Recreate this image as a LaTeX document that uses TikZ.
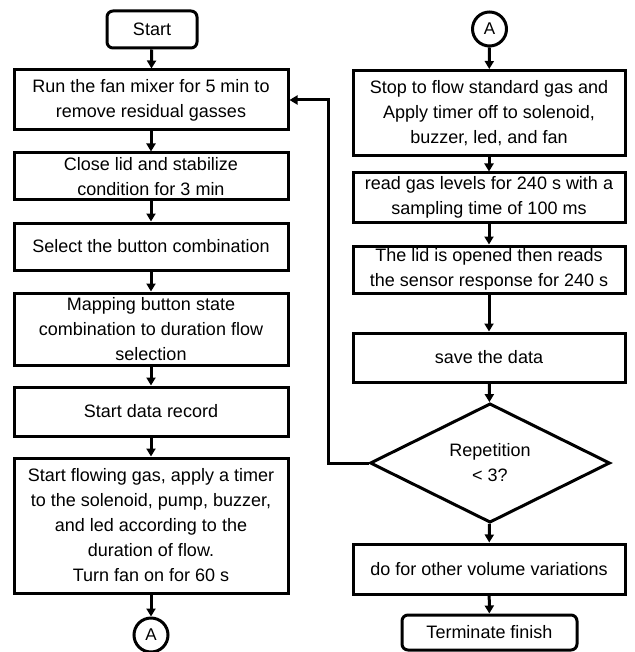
\documentclass[tikz,border=0pt]{standalone}
\usepackage{fontspec}
\setmainfont{Liberation Sans}
\usetikzlibrary{shapes.geometric,arrows.meta}
\begin{document}
\begin{tikzpicture}[x=1pt,y=-1pt,
  box/.style={draw, line width=3pt, inner sep=0pt, align=center, font=\fontsize{18}{25}\selectfont},
  lbox/.style={box, minimum width=274pt},
  rbox/.style={box, minimum width=272pt},
  term/.style={box, rounded corners=6pt},
  conn/.style={draw, circle, line width=3pt, minimum size=34pt, inner sep=0pt, font=\fontsize{17}{20}\selectfont},
  dec/.style={draw, diamond, line width=3pt, minimum width=240pt, minimum height=109pt, inner sep=0pt, align=center, font=\fontsize{18}{25}\selectfont},
  arr/.style={line width=3pt, -{Triangle[length=8pt,width=9pt]}}]
\useasboundingbox (0,0) rectangle (634,652);
% left column
\node[term, minimum width=90pt, minimum height=37pt] (start) at (152,29.5) {Start};
\node[lbox, minimum height=60pt] (run) at (151,100) {Run the fan mixer for 5 min to\\remove residual gasses};
\node[lbox, minimum height=47pt] (close) at (151,176.5) {Close lid and stabilize\\condition for 3 min};
\node[lbox, minimum height=47pt] (select) at (151,246.5) {Select the button combination};
\node[lbox, minimum height=72pt] (map) at (151,329) {Mapping button state\\combination to duration flow\\selection};
\node[lbox, minimum height=49pt] (rec) at (151,411.5) {Start data record};
\node[lbox, minimum height=135pt] (flow) at (151,525.5) {Start flowing gas, apply a timer\\to the solenoid, pump, buzzer,\\and led according to the\\duration of flow.\\Turn fan on for 60 s};
\node[conn] (a1) at (151,635) {A};
% right column
\node[conn] (a2) at (489.5,29) {A};
\node[rbox, minimum height=85pt] (stop) at (489,113) {Stop to flow standard gas and\\Apply timer off to solenoid,\\buzzer, led, and fan};
\node[rbox, minimum height=49pt] (read) at (489,197.5) {read gas levels for 240 s with a\\sampling time of 100 ms};
\node[rbox, minimum height=47pt] (lid) at (489,269.5) {The lid is opened then reads\\the sensor response for 240 s};
\node[rbox, minimum height=49pt] (save) at (489,357.5) {save the data};
\node[dec] (rep) at (490,463) {Repetition\\< 3?};
\node[rbox, minimum height=50pt] (other) at (489,569) {do for other volume variations};
\node[term, minimum width=175pt, minimum height=35pt] (fin) at (489.5,632.5) {Terminate finish};
\coordinate (fb) at (328,463);
% connectors
\draw[arr] (start) -- (run);
\draw[arr] (run) -- (close);
\draw[arr] (close) -- (select);
\draw[arr] (select) -- (map);
\draw[arr] (map) -- (rec);
\draw[arr] (rec) -- (flow);
\draw[arr] (flow) -- (a1);
\draw[arr] (a2) -- (stop);
\draw[arr] (stop) -- (read);
\draw[arr] (read) -- (lid);
\draw[arr] (lid) -- (save);
\draw[arr] (save) -- (rep);
\draw[arr] (rep) -- (other);
\draw[arr] (other) -- (fin);
\draw[arr] (rep.west) -- (fb) |- (run.east);
\end{tikzpicture}
\end{document}
